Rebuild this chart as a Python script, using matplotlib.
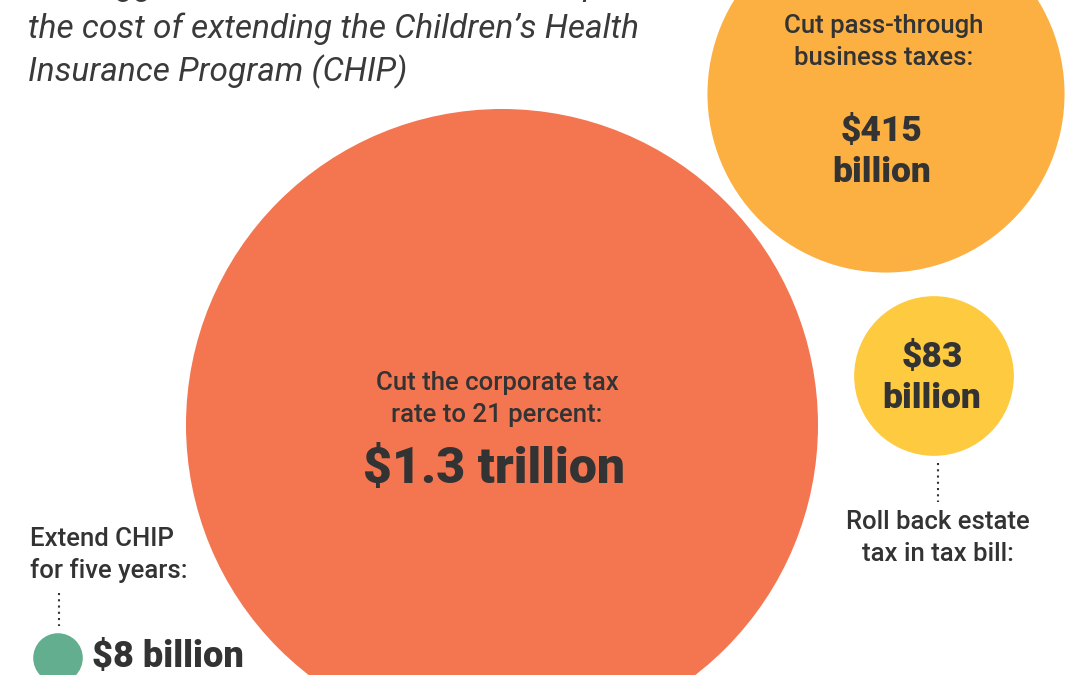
import matplotlib
matplotlib.use("Agg")
import matplotlib.pyplot as plt
import numpy as np
from matplotlib.patches import Circle

# Data (billions of dollars)
labels = ["Cut the corporate tax\nrate to 21 percent:",
          "Cut pass-through\nbusiness taxes:",
          "Roll back estate\ntax in tax bill:",
          "Extend CHIP\nfor five years:"]
values = [1300, 415, 83, 8]
value_text = ["$1.3 trillion", "$415\nbillion", "$83\nbillion", "$8 billion"]
colors = ["#F47651", "#FCB042", "#FECA3F", "#62AE8E"]

title_lines = ["The biggest tax cuts in the tax bill compared to",
               "the cost of extending the Children\u2019s Health",
               "Insurance Program (CHIP)"]

# Layout in pixel coordinates (y grows downward)
centers = [(502, 425), (886, 94), (934, 376), (58, 658)]
scale = 316 / np.sqrt(values[0])  # px per sqrt(billion)

W, H = 1080, 675
fig = plt.figure(figsize=(W / 100, H / 100), dpi=100)
ax = fig.add_axes([0, 0, 1, 1])
ax.set_xlim(0, W)
ax.set_ylim(H, 0)
ax.set_axis_off()

for (cx, cy), v, c in zip(centers, values, colors):
    ax.add_patch(Circle((cx, cy), scale * np.sqrt(v), color=c, lw=0, zorder=1))

DARK = "#333333"
LABEL = dict(family="Roboto", fontsize=18.5, color=DARK, weight="medium",
             linespacing=1.38, zorder=3)
BIG = dict(family="Roboto", color=DARK, weight="black", linespacing=1.27, zorder=3)

# title, first line is cut off at the top of the image
for i, line in enumerate(title_lines):
    ax.text(28, -5 + 43 * i, line, family="Roboto", style="italic",
            weight="normal", fontsize=24, color="#3a3a3a", va="baseline",
            ha="left")

# corporate tax
ax.text(497, 399, labels[0], ha="center", va="center", **LABEL)
ax.text(494, 470, value_text[0], ha="center", va="center", fontsize=36, **BIG)

# pass-through
ax.text(884, 42, labels[1], ha="center", va="center", **LABEL)
ax.text(882, 152, value_text[1], ha="center", va="center", fontsize=25.5, **BIG)

# estate tax
ax.text(932, 378, value_text[2], ha="center", va="center", fontsize=25.5, **BIG)
ax.plot([938, 938], [463, 502], ls=(0, (1, 2)), color=DARK, lw=1.5, zorder=2)
ax.text(938, 538, labels[2], ha="center", va="center", **LABEL)

# CHIP
ax.text(30, 555, labels[3], ha="left", va="center", **LABEL)
ax.plot([59, 59], [593, 626], ls=(0, (1, 2)), color=DARK, lw=1.5, zorder=2)
ax.text(92, 657, value_text[3], ha="left", va="center", fontsize=26, **BIG)

fig.savefig("out.png", dpi=100, facecolor="white")
